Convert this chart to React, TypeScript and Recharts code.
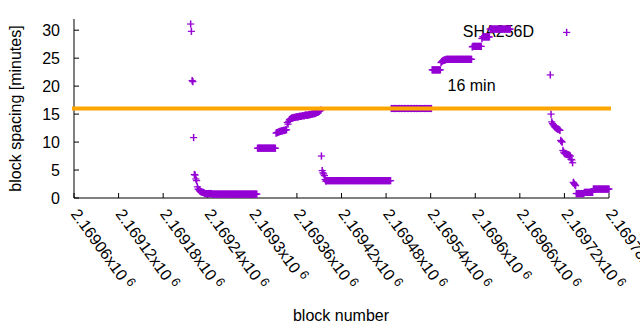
import React from 'react';
import { ScatterChart, Scatter, XAxis, YAxis, ReferenceLine } from 'recharts';

// ---------- axis ticks ----------
const xTicks = [2169060, 2169120, 2169180, 2169240, 2169300, 2169360, 2169420, 2169480, 2169540, 2169600, 2169660, 2169720, 2169780];
const xTickLabels = ['2.16906', '2.16912', '2.16918', '2.16924', '2.1693', '2.16936', '2.16942', '2.16948', '2.16954', '2.1696', '2.16966', '2.16972', '2.16978'];
const yTicks = [0, 5, 10, 15, 20, 25, 30];
const xDomain = [2169060, 2169780];
const yDomain = [0, 32];
const targetMinutes = 16;
const seriesName = 'SHA256D';
const targetLabel = '16 min';

// ---------- block spacing values (minutes), one per consecutive block ----------
const runAStart = 2169217;
const descentA = [31.1, 29.8, 21.0, 20.8, 10.8, 4.2, 4.1, 3.4, 3.1, 2.0, 1.6, 1.5, 1.3, 1.2, 1.1, 1.1, 1.0, 1.0, 0.9];
const floorA1 = [0.8, 0.8, 0.8, 0.8, 0.8, 0.8, 0.8, 0.8, 0.8, 0.8];
const floorA2 = [
  0.7, 0.7, 0.7, 0.7, 0.7, 0.7, 0.7, 0.7, 0.7, 0.7,
  0.7, 0.7, 0.7, 0.7, 0.7, 0.7, 0.7, 0.7, 0.7, 0.7,
  0.7, 0.7, 0.7, 0.7, 0.7, 0.7, 0.7, 0.7, 0.7, 0.7,
  0.7, 0.7, 0.7, 0.7, 0.7, 0.7, 0.7, 0.7, 0.7, 0.7,
  0.7, 0.7, 0.7, 0.7, 0.7, 0.7, 0.7, 0.7, 0.7, 0.7,
  0.7, 0.7, 0.7, 0.7, 0.7, 0.7, 0.7, 0.7, 0.7, 0.7,
  0.7,
];
const plateau9 = [
  8.9, 8.9, 8.9, 8.9, 8.9, 8.9, 8.9, 8.9, 8.9, 8.9,
  8.9, 8.9, 8.9, 8.9, 8.9, 8.9, 8.9, 8.9, 8.9, 8.9,
  8.9, 8.9, 8.9, 8.9, 8.9,
];
const climbA = [
  11.6, 11.7, 11.7, 11.8, 11.8, 11.9, 11.9, 12.0, 12.0, 12.0, 12.1, 12.1, 12.1, 12.2, 12.2,
  13.5, 13.2, 13.7, 14.0, 14.1, 14.2, 14.3,
];
const riseA = [
  14.3, 14.3, 14.4, 14.4, 14.4, 14.5, 14.5, 14.5, 14.5, 14.6,
  14.6, 14.6, 14.6, 14.7, 14.7, 14.7, 14.7, 14.8, 14.8, 14.8, 14.8, 14.8, 14.9,
  14.9, 14.9, 15.0, 15.0, 15.0, 15.1, 15.1, 15.1, 15.2, 15.2,
  15.3, 15.3, 15.4, 15.5, 15.6, 15.7,
];
const dropA = [7.5, 4.9, 4.5, 4.3, 4.0, 3.3, 3.0];
const plateau3 = [
  3.1, 3.1, 3.1, 3.1, 3.1, 3.1, 3.1, 3.1, 3.1, 3.1,
  3.1, 3.1, 3.1, 3.1, 3.1, 3.1, 3.1, 3.1, 3.1, 3.1,
  3.1, 3.1, 3.1, 3.1, 3.1, 3.1, 3.1, 3.1, 3.1, 3.1,
  3.1, 3.1, 3.1, 3.1, 3.1, 3.1, 3.1, 3.1, 3.1, 3.1,
  3.1, 3.1, 3.1, 3.1, 3.1, 3.1, 3.1, 3.1, 3.1, 3.1,
  3.1, 3.1, 3.1, 3.1, 3.1, 3.1, 3.1, 3.1, 3.1, 3.1,
  3.1, 3.1, 3.1, 3.1, 3.1, 3.1, 3.1, 3.1, 3.1, 3.1,
  3.1, 3.1, 3.1, 3.1, 3.1, 3.1, 3.1, 3.1, 3.1, 3.1,
  3.1, 3.1, 3.1, 3.1, 3.1, 3.1, 3.1,
];
const plateau16 = [
  16.0, 16.0, 16.0, 16.0, 16.0, 16.0, 16.0, 16.0, 16.0, 16.0,
  16.0, 16.0, 16.0, 16.0, 16.0, 16.0, 16.0, 16.0, 16.0, 16.0,
  16.0, 16.0, 16.0, 16.0, 16.0, 16.0, 16.0, 16.0, 16.0, 16.0,
  16.0, 16.0, 16.0, 16.0, 16.0, 16.0, 16.0, 16.0, 16.0, 16.0,
  16.0, 16.0, 16.0, 16.0, 16.0, 16.0, 16.0, 16.0, 16.0, 16.0,
  16.0, 16.0, 16.0, 16.0, 16.0,
];
const step23 = [22.9, 22.9, 22.9, 22.9, 22.9, 22.9, 22.9, 22.9, 22.9, 22.9, 22.9, 22.9];
const step24 = [24.2, 24.4, 24.5, 24.6, 24.6, 24.7, 24.7];
const plateau25 = [
  24.8, 24.8, 24.8, 24.8, 24.8, 24.8, 24.8, 24.8, 24.8, 24.8,
  24.8, 24.8, 24.8, 24.8, 24.8, 24.8, 24.8, 24.8, 24.8, 24.8,
  24.8, 24.8, 24.8, 24.8, 24.8, 24.8, 24.8, 24.8, 24.8, 24.8,
  24.8, 24.8, 24.8, 24.8, 24.8,
];
const plateau27 = [27.0, 27.1, 27.1, 27.1, 27.1, 27.1, 27.1, 27.1, 27.1, 27.1, 27.1, 27.1, 27.1];
const step29 = [28.5, 28.8, 28.8, 28.8, 28.8, 28.8, 28.8, 28.8, 28.8, 28.8, 28.8];
const plateau30 = [
  30.2, 30.2, 30.2, 30.2, 30.2, 30.2, 30.2, 30.2, 30.2, 30.2,
  30.2, 30.2, 30.2, 30.2, 30.2, 30.2, 30.2, 30.2, 30.2, 30.2,
  30.2, 30.2, 30.2, 30.2, 30.2, 30.2, 30.2, 30.2,
];

const runBStart = 2169701;
const descentB = [
  22.0, 15.0,
  13.6, 13.3, 13.1, 12.9, 12.7, 12.6, 12.5, 12.4, 12.3, 12.3, 12.2, 12.1,
  10.3, 10.1, 10.0,
  8.5, 8.2, 8.0, 7.9, 7.9, 7.8, 7.8, 7.7, 7.7, 7.6, 7.5,
  6.9, 6.8, 6.3,
  2.8, 2.6, 2.4, 2.2,
];
const floorB1 = [0.8, 0.8, 0.8, 0.8, 0.8, 0.8, 0.8, 0.8, 0.8, 0.8, 0.8];
const floorB2 = [1.0, 1.0, 1.0, 1.0, 1.0, 1.0, 1.0, 1.0, 1.0, 1.0, 1.0, 1.0];
const floorB3 = [
  1.6, 1.6, 1.6, 1.6, 1.6, 1.6, 1.6, 1.6, 1.6, 1.6,
  1.6, 1.6, 1.6, 1.6, 1.6, 1.6, 1.6, 1.6, 1.6, 1.6,
  1.6, 1.6,
];

// isolated extra readings
const extraBlocks = [2169723];
const extraMinutes = [29.6];

const runA = [
  ...descentA, ...floorA1, ...floorA2, ...plateau9, ...climbA, ...riseA, ...dropA,
  ...plateau3, ...plateau16, ...step23, ...step24, ...plateau25, ...plateau27, ...step29, ...plateau30,
];
const runB = [...descentB, ...floorB1, ...floorB2, ...floorB3];

const data = [
  ...runA.map((m, i) => ({ block: runAStart + i, minutes: m })),
  ...runB.map((m, i) => ({ block: runBStart + i, minutes: m })),
  ...extraBlocks.map((b, i) => ({ block: b, minutes: extraMinutes[i] })),
];

const PURPLE = '#9400D3';
const ORANGE = '#FFA500';
const FONT = '"Liberation Sans", Arial, sans-serif';

const PlusShape = (props: any) => {
  const { cx, cy } = props;
  if (cx == null || cy == null) return null;
  return (
    <g>
      <line x1={cx - 3.6} x2={cx + 3.6} y1={cy} y2={cy} stroke={PURPLE} strokeWidth={1.2} />
      <line x1={cx} x2={cx} y1={cy - 3.6} y2={cy + 3.6} stroke={PURPLE} strokeWidth={1.5} />
    </g>
  );
};

const XTick = (props: any) => {
  const { x, y, payload } = props;
  const idx = xTicks.indexOf(payload.value);
  const label = idx >= 0 ? xTickLabels[idx] : String(payload.value);
  const ax = x - 3.7;
  const ay = y;
  return (
    <text x={ax} y={ay} transform={`rotate(54 ${ax} ${ay})`} fontSize={16} fontFamily={FONT} fill="#000" textAnchor="start">
      {label}x10
      <tspan dx={3.6} dy={-5} fontSize={12.8}>6</tspan>
    </text>
  );
};

export default function App() {
  return (
    <div style={{ position: 'absolute', left: 0, top: 0, width: 640, height: 330, background: '#fff' }}>
      <svg width={640} height={330} style={{ position: 'absolute', left: 0, top: 0 }}>
        <text x={21} y={108.5} transform="rotate(-90 21 108.5)" textAnchor="middle" fontSize={16} fontFamily={FONT} fill="#000">
          block spacing [minutes]
        </text>
        <text x={341} y={321} textAnchor="middle" fontSize={16} fontFamily={FONT} fill="#000">
          block number
        </text>
        <text x={534} y={37} textAnchor="end" fontSize={16} fontFamily={FONT} fill="#000">
          {seriesName}
        </text>
        <text x={447.5} y={91} textAnchor="start" fontSize={16} fontFamily={FONT} fill="#000">
          {targetLabel}
        </text>
      </svg>
      <div style={{ position: 'absolute', left: 0, top: 0 }}>
        <ScatterChart width={640} height={330} margin={{ top: 19, right: 31, left: 14, bottom: 102 }}>
          <XAxis
            xAxisId={0}
            dataKey="block"
            type="number"
            domain={xDomain}
            ticks={xTicks}
            interval={0}
            height={30}
            tickSize={-5}
            tickMargin={21}
            tick={<XTick />}
            stroke="#000"
            axisLine={{ stroke: '#000' }}
            tickLine={{ stroke: '#000' }}
          />
          <XAxis
            xAxisId="top"
            orientation="top"
            type="number"
            domain={xDomain}
            ticks={xTicks}
            interval={0}
            height={0}
            tickSize={-5}
            tick={false}
            stroke="#000"
            axisLine={{ stroke: '#000' }}
            tickLine={{ stroke: '#000' }}
          />
          <YAxis
            yAxisId={0}
            dataKey="minutes"
            type="number"
            domain={yDomain}
            ticks={yTicks}
            interval={0}
            width={60}
            tickSize={-5}
            tickMargin={19}
            tick={{ fontSize: 16, fill: '#000', fontFamily: FONT }}
            stroke="#000"
            axisLine={{ stroke: '#000' }}
            tickLine={{ stroke: '#000' }}
          />
          <YAxis
            yAxisId="right"
            orientation="right"
            type="number"
            domain={yDomain}
            ticks={yTicks}
            interval={0}
            width={0}
            tickSize={-5}
            tick={false}
            stroke="#000"
            axisLine={{ stroke: '#000' }}
            tickLine={{ stroke: '#000' }}
          />
          <Scatter
            data={data}
            xAxisId={0}
            yAxisId={0}
            dataKey="minutes"
            shape={<PlusShape />}
            isAnimationActive={false}
          />
          <ReferenceLine
            xAxisId={0}
            yAxisId={0}
            y={targetMinutes}
            stroke={ORANGE}
            strokeWidth={4}
            strokeLinecap="square"
            zIndex={1000}
          />
        </ScatterChart>
      </div>
    </div>
  );
}
